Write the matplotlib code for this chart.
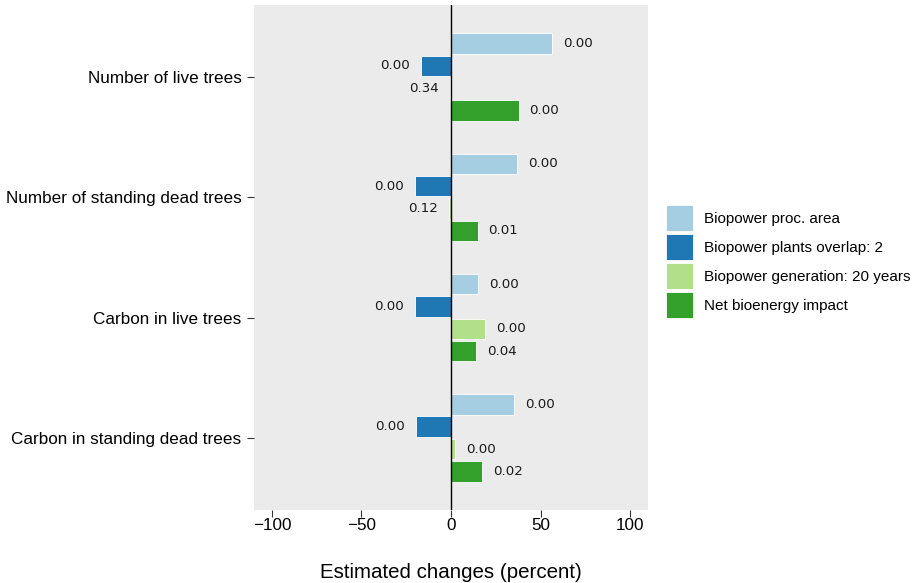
import numpy as np
import matplotlib
matplotlib.use("Agg")
import matplotlib.pyplot as plt

# Dados
categorias = ["Number of live trees", "Number of standing dead trees",
              "Carbon in live trees", "Carbon in standing dead trees"]
series = ["Biopower proc. area", "Biopower plants overlap: 2",
          "Biopower generation: 20 years", "Net bioenergy impact"]
proc_area = [56.5, 36.9, 15.3, 35.1]
plants_overlap = [-17.0, -20.3, -20.3, -19.6]
generation = [-0.8, -1.0, 19.2, 2.2]
net_impact = [37.7, 14.8, 13.9, 17.2]

p_proc = ["0.00", "0.00", "0.00", "0.00"]
p_overlap = ["0.00", "0.00", "0.00", "0.00"]
p_gen = ["0.34", "0.12", "0.00", "0.00"]
p_net = ["0.00", "0.01", "0.04", "0.02"]

cores = ["#A6CEE3", "#1F78B4", "#B2DF8A", "#33A02C"]

valores = [proc_area, plants_overlap, generation, net_impact]
pvals = [p_proc, p_overlap, p_gen, p_net]

fig = plt.figure(figsize=(9.19, 5.83), dpi=100)
ax = fig.add_axes([0.2764, 0.1252, 0.4287, 0.8662])
ax.set_facecolor("#EBEBEB")

y = np.arange(len(categorias))
passo = 0.186
offsets = [-1.5 * passo, -0.5 * passo, 0.5 * passo, 1.5 * passo]

for vals, ps, cor, off, nome in zip(valores, pvals, cores, offsets, series):
    bars = ax.barh(y + off, vals, height=0.17, color=cor, edgecolor="white",
                   linewidth=0.6, label=nome)
    for b, v, p in zip(bars, vals, ps):
        ha = "left" if v >= 0 else "right"
        dx = 8 if v >= 0 else -8
        ax.annotate(p, (v, b.get_y() + b.get_height() / 2), xytext=(dx, 0),
                    textcoords="offset points", ha=ha, va="center",
                    fontsize=9.6, family="DejaVu Sans", color="#1a1a1a")

ax.axvline(0, color="black", linewidth=1)

ax.set_xlim(-110, 110)
ax.set_ylim(3.6, -0.6)
ax.set_yticks(y)
ax.set_yticklabels(categorias, fontsize=12.3, family="Liberation Sans")
ax.set_xticks([-100, -50, 0, 50, 100])
ax.set_xticklabels(["\u2212100", "\u221250", "0", "50", "100"],
                   fontsize=12.3, family="Liberation Sans")
ax.tick_params(axis="both", length=5, color="#333333", width=0.8, pad=4)
ax.tick_params(axis="x", pad=1)
for s in ax.spines.values():
    s.set_visible(False)

ax.set_xlabel("Estimated changes (percent)", fontsize=14.8,
              family="Liberation Sans", labelpad=21)

ax.legend(loc="center left", bbox_to_anchor=(1.03, 0.492), frameon=False,
          prop={"family": "Liberation Sans", "size": 11},
          handlelength=1.76, handleheight=2.24, labelspacing=0.2,
          handletextpad=0.7, borderaxespad=0)

plt.savefig("out.png", dpi=100)
plt.close()
